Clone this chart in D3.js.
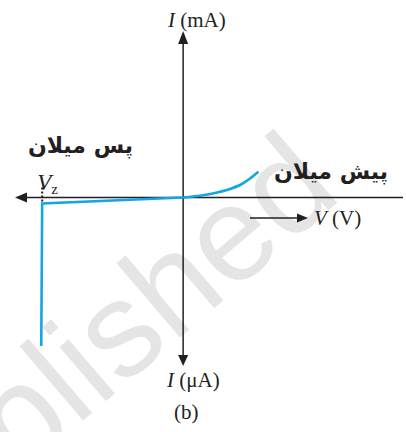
<!DOCTYPE html>
<html>
<head>
<meta charset="utf-8">
<script src="https://cdn.jsdelivr.net/npm/d3@7"></script>
<style>
  html, body { margin: 0; padding: 0; background: #fff; }
  svg { display: block; }
  .lbl { font-family: "Liberation Serif", "Times New Roman", serif; fill: #231f20; }
  .urdu { font-family: "DejaVu Sans", sans-serif; fill: #231f20; }
</style>
</head>
<body>
<svg id="chart" width="406" height="432"></svg>
<script>
// Zener diode I–V characteristic (schematic units)
const axisV = [-7.2, 9.36];          // extent of the voltage axis
const axisI = [-33.7, 33.3];         // extent of the current axis
const zenerV = -6.0;                 // breakdown voltage Vz

// reverse-bias branch: breakdown drop, then small leakage up to the origin
const reverseV = [-6.04, -6.0, 0];
const reverseI = [-29.7, -1.2, 0];

// forward-bias branch: exponential rise past the knee
const forwardV = [0, 0.85, 1.45, 2.0, 2.5, 2.85, 3.20];
const forwardI = [0, 0.45, 1.0, 1.7, 2.7, 3.8, 5.16];

const labels = {
  iUp: "(mA)",
  iDown: "(μA)",
  v: "(V)",
  reverse: "پس میلان",
  forward: "پیش میلان",
  panel: "(b)",
  watermark: "Not to be republished"
};

const svg = d3.select("#chart");
const ink = "#231f20";
const blue = "#14a6e2";

const x = d3.scaleLinear().domain(axisV).range([14, 403]);
const y = d3.scaleLinear().domain(axisI).range([366, 31]);
const x0 = x(0), y0 = y(0);

// faint background watermark
svg.append("text")
  .attr("transform", `translate(344,197) rotate(-40.6)`)
  .attr("text-anchor", "end")
  .style("font-family", "'Liberation Sans', Arial, sans-serif")
  .style("font-size", "135px")
  .style("fill", "#e5e5e5")
  .text(labels.watermark);

// arrowhead helper: tip at (tx,ty), direction angle in degrees
function arrowHead(tx, ty, angle, len, half) {
  const a = angle * Math.PI / 180;
  const dx = Math.cos(a), dy = Math.sin(a);
  const bx = tx - dx * len, by = ty - dy * len;
  const px = -dy * half, py = dx * half;
  svg.append("path")
    .attr("d", `M${tx},${ty}L${bx + px},${by + py}L${bx - px},${by - py}Z`)
    .attr("fill", ink);
}

// horizontal (voltage) axis
svg.append("line")
  .attr("x1", x(axisV[0]) + 4).attr("x2", x(axisV[1]))
  .attr("y1", y0).attr("y2", y0)
  .attr("stroke", ink).attr("stroke-width", 1.5);
arrowHead(x(axisV[0]) + 1, y0, 180, 12, 5);

// vertical (current) axis
svg.append("line")
  .attr("x1", x0).attr("x2", x0)
  .attr("y1", y(axisI[1]) + 6).attr("y2", y(axisI[0]) - 6)
  .attr("stroke", ink).attr("stroke-width", 1.5);
arrowHead(x0, y(axisI[1]), -90, 13, 5);
arrowHead(x0, y(axisI[0]), 90, 11, 5);

// Vz marker
svg.append("line")
  .attr("x1", x(zenerV)).attr("x2", x(zenerV))
  .attr("y1", y0 - 10).attr("y2", y0 + 5)
  .attr("stroke", ink).attr("stroke-width", 2)
  .attr("stroke-dasharray", "2,2");

// characteristic curve
const rev = reverseV.map((v, i) => [v, reverseI[i]]);
const fwd = forwardV.map((v, i) => [v, forwardI[i]]);
svg.append("path")
  .attr("d", d3.line().x(d => x(d[0])).y(d => y(d[1]))(rev))
  .attr("fill", "none").attr("stroke", blue)
  .attr("stroke-width", 2.6).attr("stroke-linejoin", "miter");
svg.append("path")
  .attr("d", d3.line().x(d => x(d[0])).y(d => y(d[1])).curve(d3.curveMonotoneX)(fwd))
  .attr("fill", "none").attr("stroke", blue)
  .attr("stroke-width", 2.6).attr("stroke-linecap", "butt");

// small direction arrow for V
svg.append("line")
  .attr("x1", 250).attr("x2", 300)
  .attr("y1", 218).attr("y2", 218)
  .attr("stroke", ink).attr("stroke-width", 1.5);
arrowHead(308, 218, 0, 11, 4.5);

// axis labels
function symLabel(px, py, sym, unit) {
  const t = svg.append("text").attr("class", "lbl")
    .attr("x", px).attr("y", py)
    .style("font-size", "21px");
  t.append("tspan").style("font-style", "italic").text(sym);
  t.append("tspan").text("\u00a0" + unit);
  return t;
}
symLabel(168, 27, "I", labels.iUp);
symLabel(167, 387, "I", labels.iDown);
symLabel(314, 225, "V", labels.v);

// Vz
const vz = svg.append("text").attr("class", "lbl")
  .attr("x", x(zenerV) - 5).attr("y", 190)
  .style("font-size", "23px");
vz.append("tspan").style("font-style", "italic").text("V");
vz.append("tspan").attr("dy", 4).style("font-size", "15px").text("z");

// panel label
svg.append("text").attr("class", "lbl")
  .attr("x", 174).attr("y", 419)
  .style("font-size", "21px")
  .text(labels.panel);

// region captions
svg.append("text").attr("class", "urdu")
  .attr("x", 133).attr("y", 153)
  .attr("text-anchor", "end")
  .style("font-size", "22px")
  .style("font-weight", "bold")
  .text(labels.reverse);
svg.append("text").attr("class", "urdu")
  .attr("x", 388).attr("y", 179)
  .attr("text-anchor", "end")
  .style("font-size", "22px")
  .style("font-weight", "bold")
  .text(labels.forward);
</script>
</body>
</html>
